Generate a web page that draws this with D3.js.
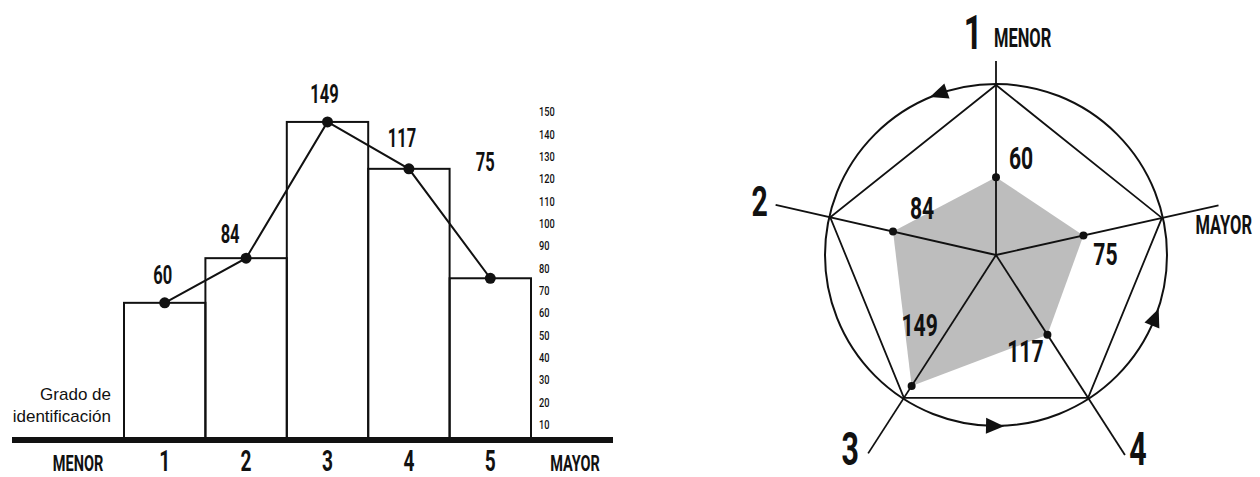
<!DOCTYPE html>
<html>
<head>
<meta charset="utf-8">
<title>Grado de identificación</title>
<style>
  body { margin: 0; background: #fff; }
  svg { display: block; }
  .cond { font-family: Roboto, "Liberation Sans", sans-serif; font-weight: 700; fill: #111; }
  .plain { font-family: "Liberation Sans", Arial, sans-serif; fill: #111; }
</style>
</head>
<body>
<svg width="1260" height="477"></svg>
<script src="https://d3js.org/d3.v7.min.js"></script>
<script>
// values printed on the chart
const categories = ["1", "2", "3", "4", "5"];
const values = [60, 84, 149, 117, 75];
const barLevels = [65, 85, 146, 125, 76];
// radial positions of the radar points as drawn, same units
const radarLevels = [73, 99, 146, 89, 84];
const scaleTicks = [10, 20, 30, 40, 50, 60, 70, 80, 90, 100, 110, 120, 130, 140, 150];
const endLabels = ["MENOR", "MAYOR"];

const svg = d3.select("svg");

// condensed text: regular font squeezed horizontally
function cond(g, x, y, txt, size, anchor, sx) {
  return g.append("text")
    .attr("class", "cond")
    .attr("transform", `translate(${x},${y}) scale(${sx || 0.66},1)`)
    .attr("text-anchor", anchor || "middle")
    .style("font-size", size + "px")
    .text(txt);
}

// ---------- left: bars + line ----------
const left = svg.append("g");
const baseY = 440;

const x = d3.scaleBand().domain(categories).range([124, 531]).paddingInner(0);
const y = d3.scaleLinear().domain([0, 150]).range([448, 113]);

left.selectAll("rect.bar")
  .data(categories)
  .enter().append("rect")
    .attr("class", "bar")
    .attr("x", d => x(d))
    .attr("y", (d, i) => y(barLevels[i]))
    .attr("width", x.bandwidth())
    .attr("height", (d, i) => baseY - y(barLevels[i]))
    .attr("fill", "none")
    .attr("stroke", "#111")
    .attr("stroke-width", 2);

const pts = categories.map((d, i) => [x(d) + x.bandwidth() / 2, y(barLevels[i])]);

left.append("path")
  .attr("d", d3.line()(pts))
  .attr("fill", "none")
  .attr("stroke", "#111")
  .attr("stroke-width", 2);

left.selectAll("circle.dot")
  .data(pts)
  .enter().append("circle")
    .attr("cx", d => d[0])
    .attr("cy", d => d[1])
    .attr("r", 5.5)
    .attr("fill", "#111");

// value labels (last one floats higher, as in the original)
const labelDy = [-19, -15, -19, -22, -107];
const labelDx = [-2, -16, -3, -7, -5];
values.forEach((v, i) => {
  cond(left, pts[i][0] + labelDx[i], pts[i][1] + labelDy[i], v, 25);
});

// right-hand scale, text only
scaleTicks.forEach(t => {
  left.append("text")
    .attr("class", "cond")
    .attr("transform", `translate(539,${y(t)}) scale(0.74,1)`)
    .attr("dominant-baseline", "middle")
    .style("font-size", "12.5px")
    .style("font-weight", 500)
    .text(t);
});

// base line
left.append("line")
  .attr("x1", 12).attr("x2", 613)
  .attr("y1", baseY).attr("y2", baseY)
  .attr("stroke", "#111")
  .attr("stroke-width", 6);

left.append("text").attr("class", "plain")
  .attr("x", 111).attr("y", 400).attr("text-anchor", "end")
  .style("font-size", "17px").text("Grado de");
left.append("text").attr("class", "plain")
  .attr("x", 111).attr("y", 422).attr("text-anchor", "end")
  .style("font-size", "17px").text("identificación");

categories.forEach(c => cond(left, x(c) + x.bandwidth() / 2, 471, c, 29));
cond(left, 78, 471, endLabels[0], 22);
cond(left, 575, 471, endLabels[1], 22);

// ---------- right: radar ----------
const cx = 996, cy = 255;
const radar = svg.append("g").attr("transform", `translate(${cx},${cy})`);

// axis directions (degrees, screen coords) for 1..5
const ang = d3.scaleOrdinal().domain(categories).range([-90, 192.8, 122.8, 57.2, -12.6]);
const r = d3.scaleLinear().domain([0, 150]).range([0, 160]);
const R = 170;
const polar = (deg, rad) => [rad * Math.cos(deg * Math.PI / 180), rad * Math.sin(deg * Math.PI / 180)];

radar.append("circle")
  .attr("r", R + 1)
  .attr("fill", "none")
  .attr("stroke", "#111")
  .attr("stroke-width", 2);

// shaded area
const rpts = categories.map((c, i) => polar(ang(c), r(radarLevels[i])));
radar.append("path")
  .attr("d", d3.line()(rpts) + "Z")
  .attr("fill", "#bdbdbd");

// pentagon
radar.append("path")
  .attr("d", d3.line()(categories.map(c => polar(ang(c), R))) + "Z")
  .attr("fill", "none")
  .attr("stroke", "#111")
  .attr("stroke-width", 1.8);

// spokes
const spokeLen = [194, 226, 236, 238, 228];
categories.forEach((c, i) => {
  const e = polar(ang(c), spokeLen[i]);
  radar.append("line")
    .attr("x1", 0).attr("y1", 0)
    .attr("x2", e[0]).attr("y2", e[1])
    .attr("stroke", "#111")
    .attr("stroke-width", 1.8);
});

radar.selectAll("circle.pt")
  .data(rpts)
  .enter().append("circle")
    .attr("cx", d => d[0])
    .attr("cy", d => d[1])
    .attr("r", 4)
    .attr("fill", "#111");

// direction arrows on the circle
[-109, 91, 22].forEach(a => {
  const p = polar(a, R + 1);
  radar.append("path")
    .attr("d", "M0,-11L8,7L-8,7Z")
    .attr("transform", `translate(${p[0]},${p[1]}) rotate(${a})`)
    .attr("fill", "#111");
});

// value labels next to the points
const vdx = [25, 29, 8, -22, 22];
const vdy = [-8, -13, -50, 27, 30];
values.forEach((v, i) => cond(radar, rpts[i][0] + vdx[i], rpts[i][1] + vdy[i], v, 32));

// axis labels
const ends = categories.map((c, i) => polar(ang(c), spokeLen[i]));
cond(radar, ends[0][0] - 23, ends[0][1] - 12, "1", 49);
cond(radar, ends[0][0] - 2, ends[0][1] - 14, endLabels[0], 25, "start");
cond(radar, ends[1][0] - 16, ends[1][1] + 11, "2", 43);
cond(radar, ends[2][0] - 18, ends[2][1] + 12, "3", 46);
cond(radar, ends[3][0] + 13, ends[3][1] + 10, "4", 46);
cond(radar, ends[4][0] - 23, ends[4][1] + 29, endLabels[1], 25, "start");
</script>
</body>
</html>
